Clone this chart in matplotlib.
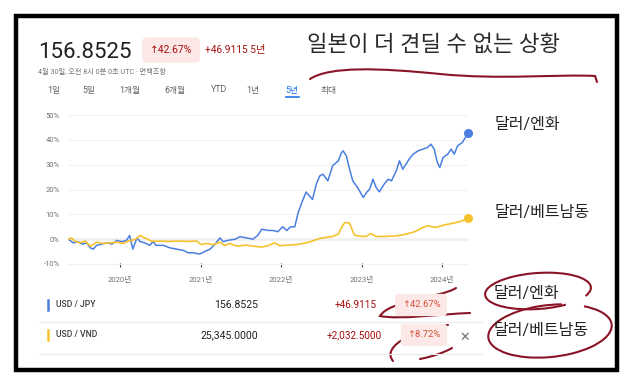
import numpy as np
import matplotlib
matplotlib.use("Agg")
import matplotlib.pyplot as plt
from matplotlib.transforms import Affine2D
from matplotlib.patches import Rectangle, Arc, PathPatch
from matplotlib.path import Path

plt.rcParams['font.family'] = ['Roboto', 'Noto Sans CJK KR', 'DejaVu Sans']

# --- data (decimal year, % change over 5 years) ---
jpy_t = [2019.36, 2019.42, 2019.48, 2019.53, 2019.59, 2019.63, 2019.67, 2019.71, 2019.77, 2019.84,
         2019.90, 2019.96, 2020.02, 2020.08, 2020.12, 2020.16, 2020.21, 2020.25, 2020.31, 2020.37,
         2020.41, 2020.45, 2020.54, 2020.62, 2020.70, 2020.78, 2020.85, 2020.91, 2020.99, 2021.05,
         2021.12, 2021.18, 2021.24, 2021.28, 2021.34, 2021.43, 2021.49, 2021.57, 2021.65, 2021.71,
         2021.76, 2021.84, 2021.90, 2021.96, 2022.02, 2022.07, 2022.12, 2022.17, 2022.21, 2022.26,
         2022.31, 2022.39, 2022.44, 2022.48, 2022.52, 2022.58, 2022.64, 2022.71, 2022.75, 2022.77,
         2022.81, 2022.85, 2022.89, 2022.95, 2023.02, 2023.06, 2023.10, 2023.14, 2023.18, 2023.22,
         2023.28, 2023.33, 2023.37, 2023.43, 2023.47, 2023.51, 2023.55, 2023.59, 2023.64, 2023.70,
         2023.76, 2023.82, 2023.86, 2023.90, 2023.94, 2023.97, 2024.01, 2024.07, 2024.11, 2024.15,
         2024.19, 2024.25, 2024.32]
jpy_v = [0, -1.5, -1, -2, -1.5, -3.5, -4, -2.5, -2, -1.5,
         -2, -0.5, -1, -0.5, 1.5, -4, 0.5, -1, -1.5, -2.5,
         -1, -2.5, -2.5, -3.5, -4, -4.5, -5.5, -5.5, -6, -5,
         -4, -2, 0.5, -1, -0.5, 0, 1, 0.5, 0, 1.5,
         4, 3.5, 3.5, 3, 5, 3.5, 5, 5, 10.5, 15,
         19, 16, 22.5, 25.5, 26.2, 23.5, 29.6, 31.6, 34.9, 35.6,
         33.6, 28.2, 23.5, 20.8, 16.8, 18.8, 20.2, 24.2, 20.8, 19.1,
         22.2, 24.2, 23.5, 27.6, 31.6, 28.2, 30.2, 32.3, 34.3, 35.6,
         36.3, 37.0, 38.3, 36.3, 30.9, 28.9, 32.9, 34.3, 36.3, 34.3,
         37.6, 39.0, 42.67]

vnd_t = [2019.36, 2019.40, 2019.44, 2019.50, 2019.57, 2019.63, 2019.67, 2019.71, 2019.79, 2019.88,
         2019.96, 2020.04, 2020.10, 2020.19, 2020.25, 2020.31, 2020.39, 2020.50, 2020.62, 2020.74,
         2020.87, 2020.95, 2021.01, 2021.07, 2021.16, 2021.24, 2021.30, 2021.36, 2021.45, 2021.57,
         2021.65, 2021.76, 2021.84, 2021.92, 2021.98, 2022.11, 2022.23, 2022.35, 2022.48, 2022.64,
         2022.71, 2022.75, 2022.79, 2022.85, 2022.88, 2022.91, 2023.00, 2023.06, 2023.11, 2023.18,
         2023.30, 2023.43, 2023.55, 2023.66, 2023.76, 2023.82, 2023.92, 2024.01, 2024.07, 2024.17,
         2024.25, 2024.32]
vnd_v = [0, 0.5, -0.8, -1.5, -0.8, -2.8, -2.2, -1.2, -1.7, -1.5,
         -1.2, -1.7, -0.8, -0.1, 1.5, 0.5, -0.8, -0.8, -0.9, -0.8,
         -0.9, -0.8, -2.2, -1.7, -2.2, -1.2, -2.6, -1.7, -2.8, -2.4,
         -2.8, -3.2, -2.6, -1.5, -2.6, -2.4, -2.0, -1.2, 0.3, 1.1,
         2.0, 4.7, 6.7, 6.5, 4.0, 1.6, 1.1, 1.1, 2.3, 1.1,
         1.1, 1.3, 2.0, 3.0, 4.7, 5.4, 4.7, 5.6, 6.0, 6.7,
         7.4, 8.72]

yticks = [-10, 0, 10, 20, 30, 40, 50]
xticks = [2020, 2021, 2022, 2023, 2024]
tabs = ['1일', '5일', '1개월', '6개월', 'YTD', '1년', '5년', '최대']

pairs = ['USD / JPY', 'USD / VND']
prices = ['156.8525', '25,345.0000']
changes = ['+46.9115', '+2,032.5000']
pcts = ['↑42.67%', '↑8.72%']

BLUE = '#4a7fe0'
YELLOW = '#f6c22c'
RED = '#a50e0e'
GRAY = '#70757a'
INK = '#8a1426'
ARROWFONT = ['Roboto', 'DejaVu Sans', 'Noto Sans CJK KR']

fig = plt.figure(figsize=(6.35, 3.92), dpi=100)
fig.patch.set_facecolor('white')
# pixel coords (origin top-left)
pix = Affine2D().scale(1 / 635, -1 / 392).translate(0, 1) + fig.transFigure

# frame
fig.patches.append(Rectangle((16, 16), 601, 354, transform=pix, fill=False,
                             edgecolor='black', linewidth=3.2))

# header
fig.text(38, 58, '156.8525', transform=pix, fontsize=16, color='#202124', va='baseline')
fig.text(171, 50, pcts[0], transform=pix, fontsize=7.5, color=RED, ha='center', va='center',
         family=ARROWFONT,
         bbox=dict(boxstyle='round,pad=0.75,rounding_size=0.5', fc='#fce8e6', ec='none'))
fig.text(205, 50, '+46.9115 5년', transform=pix, fontsize=7.3, color=RED, va='center')
fig.text(38, 72, '4월 30일, 오전 8시 0분 0초 UTC · 면책조항', transform=pix, fontsize=5.2,
         color=GRAY, va='center')
fig.text(307, 45, '일본이 더 견딜 수 없는 상황', transform=pix, fontsize=16, color='#2a2a2a',
         va='center')

tab_x = [54, 89, 130, 175, 219, 253, 292, 329]
for tx, lab in zip(tab_x, tabs):
    fig.text(tx, 90, lab, transform=pix, fontsize=6.3, ha='center', va='center',
             color='#1a73e8' if lab == '5년' else '#5f6368')
fig.lines.append(plt.Line2D([286, 299], [97, 97], transform=pix, color='#1a73e8', lw=1.2))

# chart
ax = fig.add_axes([68 / 635, 1 - 265.2 / 392, 400 / 635, 155 / 392])
ax.plot(jpy_t, jpy_v, color=BLUE, lw=1.1, solid_joinstyle='round')
ax.plot(vnd_t, vnd_v, color=YELLOW, lw=1.2, solid_joinstyle='round')
ax.plot(jpy_t[-1], jpy_v[-1], 'o', color=BLUE, ms=5.5, clip_on=False)
ax.plot(vnd_t[-1], vnd_v[-1], 'o', color=YELLOW, ms=5.5, clip_on=False)
ax.axhline(0, color='#bdbdbd', lw=1, zorder=0)
ax.set_xlim(2019.355, 2024.32)
ax.set_ylim(-10.5, 52)
ax.set_yticks(yticks)
ax.set_yticklabels([f'{v}%' for v in yticks])
ax.set_xticks(xticks)
ax.set_xticklabels([f'{v}년' for v in xticks])
ax.grid(axis='y', color='#f0f0f0', lw=0.7)
ax.set_axisbelow(True)
for s in ax.spines.values():
    s.set_visible(False)
ax.tick_params(axis='y', length=0, pad=6, labelsize=5.5, labelcolor=GRAY)
ax.tick_params(axis='x', length=3, direction='inout', color='#444444', width=0.8,
               pad=6, labelsize=5.5, labelcolor=GRAY)

fig.text(495, 125, '달러/엔화', transform=pix, fontsize=11.5, color='#222222', va='center')
fig.text(495, 213, '달러/베트남동', transform=pix, fontsize=11.5, color='#222222', va='center')

# table
row_y = [305, 335]
bar_c = [BLUE, YELLOW]
for i in range(2):
    y = row_y[i]
    fig.lines.append(plt.Line2D([48, 48], [y - 5, y + 5], transform=pix, color=bar_c[i], lw=1.8))
    fig.text(56, y, pairs[i], transform=pix, fontsize=6.2, color='#3c4043', va='center',
             fontweight='medium')
    fig.text(258, y, prices[i], transform=pix, fontsize=7.6, color='#202124', ha='right',
             va='center')
    fig.text(377 + 5 * i, y, changes[i], transform=pix, fontsize=7.2, color=RED, ha='right',
             va='center')
    fig.text(421 + 3 * i, y, pcts[i], transform=pix, fontsize=6.8, color='#d4523f',
             ha='center', va='center', family=ARROWFONT,
             bbox=dict(boxstyle='round,pad=0.7,rounding_size=0.4', fc='#fce8e6', ec='none'))
for y in [322, 354]:
    fig.lines.append(plt.Line2D([40, 482], [y, y], transform=pix, color='#e8eaed', lw=0.8))
fig.text(465, 337, '✕', transform=pix, fontsize=9, color='#6f6f6f', ha='center', va='center',
         family='DejaVu Sans')

fig.text(494, 294, '달러/엔화', transform=pix, fontsize=11.5, color='#222222', va='center')
fig.text(494, 331, '달러/베트남동', transform=pix, fontsize=11.5, color='#222222', va='center')

# hand-drawn red marks
M, C4, L = Path.MOVETO, Path.CURVE4, Path.LINETO
strokes = [
    ([(310, 79), (330, 66), (380, 68), (440, 74), (500, 80), (560, 74), (595, 76), (597, 82)],
     [M, C4, C4, C4, C4, C4, C4, L]),
    ([(456, 288), (440, 298), (390, 300), (380, 316), (400, 320), (440, 314), (470, 313)],
     [M, C4, C4, C4, C4, C4, C4]),
    ([(448, 325), (420, 328), (380, 345), (393, 361)], [M, C4, C4, C4]),
    ([(420, 359), (435, 356), (445, 352), (452, 348)], [M, C4, C4, C4]),
]
for pts, codes in strokes:
    fig.patches.append(PathPatch(Path(pts, codes), transform=pix, fill=False,
                                 edgecolor=INK, lw=1.5, capstyle='round'))
fig.patches.append(Arc((538, 291), 106, 36, angle=-4, theta1=30, theta2=370, transform=pix,
                       edgecolor=INK, lw=1.5))
fig.patches.append(Arc((550, 331), 124, 52, angle=-6, theta1=-30, theta2=300, transform=pix,
                       edgecolor=INK, lw=1.5))

fig.savefig('out.png', dpi=100)
